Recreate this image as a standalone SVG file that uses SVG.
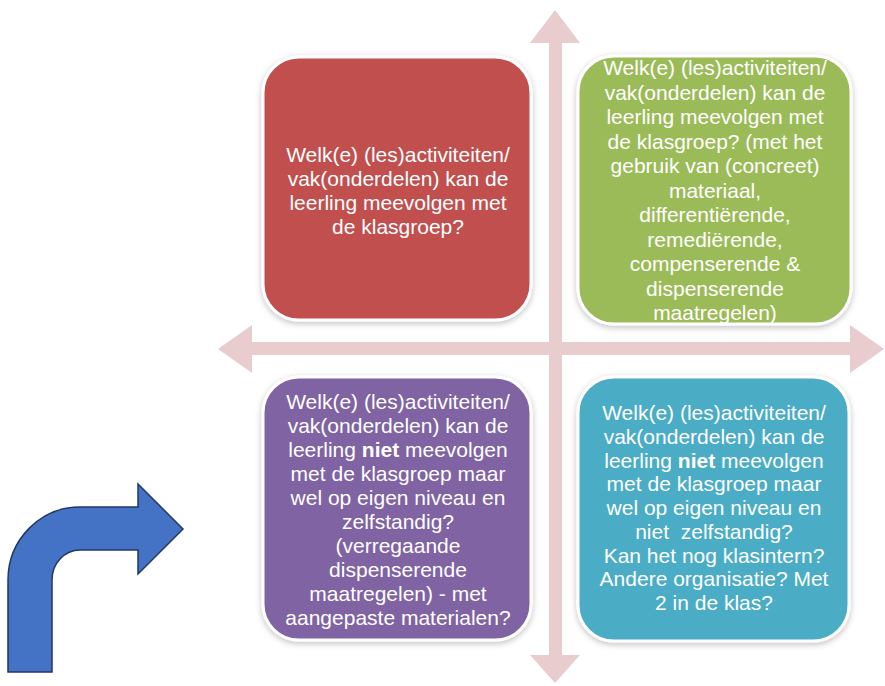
<svg xmlns="http://www.w3.org/2000/svg" width="885" height="686" viewBox="0 0 885 686">
<defs>
<filter id="shadow" x="-10%" y="-10%" width="120%" height="120%">
<feDropShadow dx="0" dy="2" stdDeviation="3" flood-color="#000000" flood-opacity="0.25"/>
</filter>
</defs>
<style>
.box{stroke:#ffffff;stroke-width:3;filter:url(#shadow);}
.axis{fill:#E8CCCE;}
.t{font-family:"Liberation Sans",Arial,sans-serif;font-size:21px;fill:#ffffff;text-anchor:middle;}
.b{font-weight:bold;}
</style>
<rect width="885" height="686" fill="#ffffff"/>
<g id="connectors">
<g id="axes" class="axis">
<polygon points="555,10 580,43 562,43 562,655 580,655 555,683 530,655 549,655 549,43 530,43"/>
<polygon points="218,349 252,325 252,342 850,342 850,325 884,349 850,373 850,355 252,355 252,373"/>
</g>
</g>
<g id="node-red">
<rect class="box" x="263" y="57" width="268" height="263" rx="36" fill="#C0504D"/>
<text class="t"><tspan x="398" y="162">Welk(e) (les)activiteiten/</tspan><tspan x="398" y="186">vak(onderdelen) kan de</tspan><tspan x="398" y="210">leerling meevolgen met</tspan><tspan x="398" y="234">de klasgroep?</tspan></text>
</g>
<g id="node-green">
<rect class="box" x="578" y="56" width="273" height="268" rx="36" fill="#9BBB59"/>
<text class="t"><tspan x="715" y="75">Welk(e) (les)activiteiten/</tspan><tspan x="715" y="99.5">vak(onderdelen) kan de</tspan><tspan x="715" y="124">leerling meevolgen met</tspan><tspan x="715" y="148.5">de klasgroep? (met het</tspan><tspan x="715" y="173">gebruik van (concreet)</tspan><tspan x="715" y="197.5">materiaal,</tspan><tspan x="715" y="222">differentiërende,</tspan><tspan x="715" y="246.5">remediërende,</tspan><tspan x="715" y="271">compenserende &amp;</tspan><tspan x="715" y="295.5">dispenserende</tspan><tspan x="715" y="320">maatregelen)</tspan></text>
</g>
<g id="node-purple">
<rect class="box" x="263" y="377" width="268" height="263" rx="36" fill="#8064A2"/>
<text class="t"><tspan x="398" y="409">Welk(e) (les)activiteiten/</tspan><tspan x="398" y="433">vak(onderdelen) kan de</tspan><tspan x="398" y="457">leerling <tspan class="b">niet</tspan> meevolgen</tspan><tspan x="398" y="481">met de klasgroep maar</tspan><tspan x="398" y="505">wel op eigen niveau en</tspan><tspan x="398" y="529">zelfstandig?</tspan><tspan x="398" y="553">(verregaande</tspan><tspan x="398" y="577">dispenserende</tspan><tspan x="398" y="601">maatregelen) - met</tspan><tspan x="398" y="625">aangepaste materialen?</tspan></text>
</g>
<g id="node-blue">
<rect class="box" x="578" y="377" width="271" height="264" rx="36" fill="#4BACC6"/>
<text class="t" xml:space="preserve"><tspan x="714" y="420">Welk(e) (les)activiteiten/</tspan><tspan x="714" y="443.75">vak(onderdelen) kan de</tspan><tspan x="714" y="467.5">leerling <tspan class="b">niet</tspan> meevolgen</tspan><tspan x="714" y="491.25">met de klasgroep maar</tspan><tspan x="714" y="515">wel op eigen niveau en</tspan><tspan x="714" y="538.75">niet  zelfstandig?</tspan><tspan x="714" y="562.5">Kan het nog klasintern?</tspan><tspan x="714" y="586.25">Andere organisatie? Met</tspan><tspan x="714" y="610">2 in de klas?</tspan></text>
</g>
<g id="bend-arrow">
<path d="M8,672 L8,580 A72,73 0 0 1 80,507 L138,507 L138,484 L183,529 L138,574 L138,550 L80,550 A28,30 0 0 0 52,580 L52,672 Z" fill="#4472C4" stroke="#1F3864" stroke-width="1.5" stroke-linejoin="miter"/>
</g>
</svg>
